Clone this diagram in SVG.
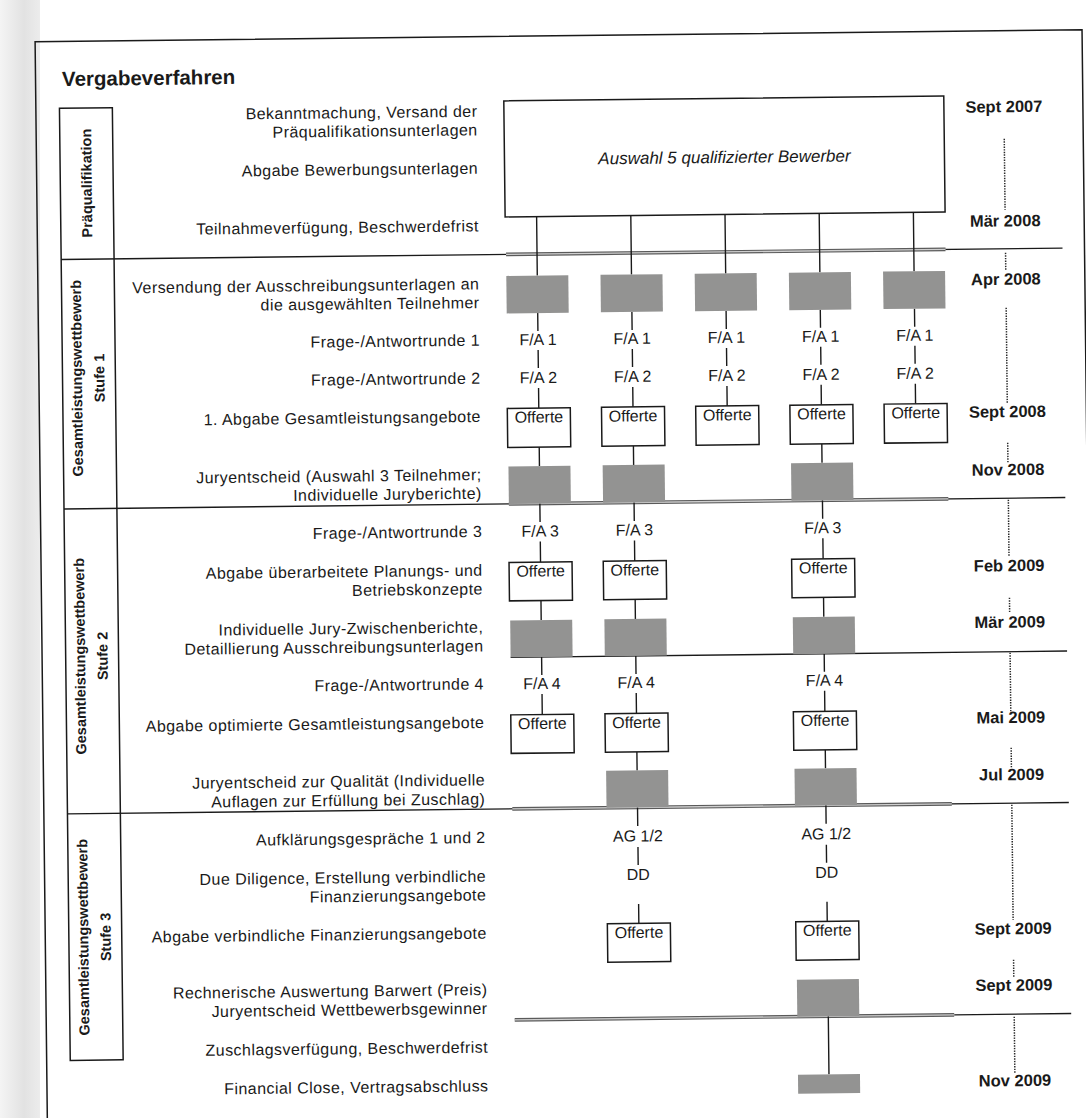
<svg xmlns="http://www.w3.org/2000/svg" width="1086" height="1118" viewBox="0 0 1086 1118">
<style>
text{font-family:"Liberation Sans",Arial,Helvetica,sans-serif;fill:#1a1a1a}
.lbl{font-size:16px;letter-spacing:0.45px;text-anchor:end}
.ttl{font-size:20.5px;font-weight:bold}
.ph{font-size:14.5px;font-weight:bold;text-anchor:middle}
.dt{font-size:16.5px;font-weight:bold;text-anchor:middle}
.cl{font-size:16px;text-anchor:middle}
.it{font-size:17px;font-style:italic;text-anchor:middle}
.gr{fill:#939392}
.of{fill:#fff;stroke:#1a1a1a;stroke-width:1.5}
.bx{fill:#fff;stroke:#1a1a1a;stroke-width:1.5}
.fr{fill:none;stroke:#1a1a1a;stroke-width:1.5}
.cn{stroke:#1a1a1a;stroke-width:1.4;fill:none}
.sp{stroke:#1a1a1a;stroke-width:1.4}
.d1{stroke:#5a5a5a;stroke-width:3.6}
.d2{stroke:#cfcfcf;stroke-width:1.3}
.dot{stroke:#2a2a2a;stroke-width:1.5;stroke-dasharray:1.4 1.2;fill:none}
</style>
<defs>
<linearGradient id="shade" x1="0" y1="0" x2="1" y2="0">
<stop offset="0" stop-color="#f4f4f4"/>
<stop offset="0.6" stop-color="#e2e2e2"/>
<stop offset="1" stop-color="#ececec"/>
</linearGradient>
</defs>
<rect x="0" y="0" width="1086" height="1118" fill="#fff"/>
<rect x="0" y="0" width="40" height="1118" fill="url(#shade)"/>
<g transform="rotate(-0.65 543 559)">
<g id="frame"><path class="fr" d="M41,1140 V36 H1088 V1140"/></g>
<g id="title"><text class="ttl" x="67.5" y="80.5">Vergabeverfahren</text></g>
<g id="phase-column"><rect class="fr" x="64.6" y="102.8" width="52.9" height="952.2"/></g>
<g id="phase-prequal"><text class="ph" transform="translate(96,178) rotate(-90)">Präqualifikation</text></g>
<g id="phase-stufe1"><text class="ph" transform="translate(84,373) rotate(-90)">Gesamtleistungswettbewerb</text><text class="ph" transform="translate(106.5,373) rotate(-90)">Stufe 1</text></g>
<g id="phase-stufe2"><text class="ph" transform="translate(84,651) rotate(-90)">Gesamtleistungswettbewerb</text><text class="ph" transform="translate(106.5,651) rotate(-90)">Stufe 2</text></g>
<g id="phase-stufe3"><text class="ph" transform="translate(84,932) rotate(-90)">Gesamtleistungswettbewerb</text><text class="ph" transform="translate(106.5,932) rotate(-90)">Stufe 3</text></g>

<g id="connectors">
<g id="separators">
<line class="sp" x1="64.6" y1="254" x2="1066" y2="254"/>
<line class="d1" x1="509.5" y1="254" x2="949" y2="254"/><line class="d2" x1="509.5" y1="254" x2="949" y2="254"/>
<line class="sp" x1="64.6" y1="503.5" x2="1066" y2="503.5"/>
<line class="d1" x1="509.5" y1="503.5" x2="949" y2="503.5"/><line class="d2" x1="509.5" y1="503.5" x2="949" y2="503.5"/>
<line class="sp" x1="509.5" y1="657" x2="1066" y2="657"/>
<line class="sp" x1="64.6" y1="808.5" x2="1066" y2="808.5"/>
<line class="d1" x1="509.5" y1="808.5" x2="949" y2="808.5"/><line class="d2" x1="509.5" y1="808.5" x2="949" y2="808.5"/>
<line class="sp" x1="949" y1="1019.5" x2="1066" y2="1019.5"/>
<line class="d1" x1="509.5" y1="1019.5" x2="949" y2="1019.5"/><line class="d2" x1="509.5" y1="1019.5" x2="949" y2="1019.5"/>
</g>
<path class="cn" d="M540.5,216.5V275.5 M634.7,216.5V275.5 M728.9,216.5V275.5 M823.1,216.5V275.5 M917.3,216.5V275.5
M540.5,313V331 M634.7,313V331 M728.9,313V331 M823.1,313V331 M917.3,313V331
M540.5,350V368 M634.7,350V368 M728.9,350V368 M823.1,350V368 M917.3,350V368
M540.5,388V408 M634.7,388V408 M728.9,388V408 M823.1,388V408 M917.3,388V408
M540.5,447V466 M634.7,447V466 M823.1,447V466
M540.5,503.5V522 M634.7,503.5V522 M823.1,503.5V522
M540.5,541.5V562 M634.7,541.5V562 M823.1,541.5V562
M540.5,600.5V620 M634.7,600.5V620 M823.1,600.5V620
M540.5,657V675 M634.7,657V675 M823.1,657V675
M540.5,694V714.5 M634.7,694V714.5 M823.1,694V714.5
M634.7,753V771.5 M823.1,753V771.5
M634.7,808.5V827 M823.1,808.5V827
M634.7,848V866 M823.1,848V866
M634.7,905V924.5 M823.1,905V924.5
M823.1,1019.5V1077.5"/>
<path class="dot" d="M1009,144V215 M1009,258V275 M1009,313V408 M1009,448V468 M1009,505V562 M1009,603V618 M1009,658V717 M1009,753V773 M1009,810V925 M1009,965V983 M1009,1022V1078"/>
</g>

<g id="labels">
<g id="l-bekannt"><text class="lbl" x="482.5" y="116">Bekanntmachung, Versand der</text><text class="lbl" x="482.5" y="134.7">Präqualifikationsunterlagen</text></g>
<g id="l-abgabe-bew"><text class="lbl" x="482.5" y="173">Abgabe Bewerbungsunterlagen</text></g>
<g id="l-teilnahme"><text class="lbl" x="482.5" y="230.7">Teilnahmeverfügung, Beschwerdefrist</text></g>
<g id="l-versendung"><text class="lbl" x="482.5" y="288.7">Versendung der Ausschreibungsunterlagen an</text><text class="lbl" x="482.5" y="307.4">die ausgewählten Teilnehmer</text></g>
<g id="l-fa1"><text class="lbl" x="482.5" y="345">Frage-/Antwortrunde 1</text></g>
<g id="l-fa2"><text class="lbl" x="482.5" y="383">Frage-/Antwortrunde 2</text></g>
<g id="l-abgabe1"><text class="lbl" x="482.5" y="421.3">1. Abgabe Gesamtleistungsangebote</text></g>
<g id="l-jury1"><text class="lbl" x="482.5" y="479.4">Juryentscheid (Auswahl 3 Teilnehmer;</text><text class="lbl" x="482.5" y="498.1">Individuelle Juryberichte)</text></g>
<g id="l-fa3"><text class="lbl" x="482.5" y="536.3">Frage-/Antwortrunde 3</text></g>
<g id="l-abgabe2"><text class="lbl" x="482.5" y="575">Abgabe überarbeitete Planungs- und</text><text class="lbl" x="482.5" y="593.8">Betriebskonzepte</text></g>
<g id="l-zwischen"><text class="lbl" x="482.5" y="631.8">Individuelle Jury-Zwischenberichte,</text><text class="lbl" x="482.5" y="650.7">Detaillierung Ausschreibungsunterlagen</text></g>
<g id="l-fa4"><text class="lbl" x="482.5" y="688.7">Frage-/Antwortrunde 4</text></g>
<g id="l-abgabe3"><text class="lbl" x="482.5" y="727.3">Abgabe optimierte Gesamtleistungsangebote</text></g>
<g id="l-jury2"><text class="lbl" x="482.5" y="784.7">Juryentscheid zur Qualität (Individuelle</text><text class="lbl" x="482.5" y="803.7">Auflagen zur Erfüllung bei Zuschlag)</text></g>
<g id="l-ag"><text class="lbl" x="482.5" y="842.3">Aufklärungsgespräche 1 und 2</text></g>
<g id="l-dd"><text class="lbl" x="482.5" y="881">Due Diligence, Erstellung verbindliche</text><text class="lbl" x="482.5" y="899.8">Finanzierungsangebote</text></g>
<g id="l-abgabe4"><text class="lbl" x="482.5" y="938">Abgabe verbindliche Finanzierungsangebote</text></g>
<g id="l-rechn"><text class="lbl" x="482.5" y="994.4">Rechnerische Auswertung Barwert (Preis)</text><text class="lbl" x="482.5" y="1013.2">Juryentscheid Wettbewerbsgewinner</text></g>
<g id="l-zuschlag"><text class="lbl" x="482.5" y="1052">Zuschlagsverfügung, Beschwerdefrist</text></g>
<g id="l-close"><text class="lbl" x="482.5" y="1090.7">Financial Close, Vertragsabschluss</text></g>
</g>

<g id="dates">
<g id="d1"><text class="dt" x="1009" y="117.5">Sept 2007</text></g>
<g id="d2"><text class="dt" x="1009" y="231.7">Mär 2008</text></g>
<g id="d3"><text class="dt" x="1009" y="290">Apr 2008</text></g>
<g id="d4"><text class="dt" x="1009" y="422.5">Sept 2008</text></g>
<g id="d5"><text class="dt" x="1009" y="480.5">Nov 2008</text></g>
<g id="d6"><text class="dt" x="1009" y="576.5">Feb 2009</text></g>
<g id="d7"><text class="dt" x="1009" y="633">Mär 2009</text></g>
<g id="d8"><text class="dt" x="1009" y="728.3">Mai 2009</text></g>
<g id="d9"><text class="dt" x="1009" y="785.5">Jul 2009</text></g>
<g id="d10"><text class="dt" x="1009" y="939.5">Sept 2009</text></g>
<g id="d11"><text class="dt" x="1009" y="996">Sept 2009</text></g>
<g id="d12"><text class="dt" x="1009" y="1091.5">Nov 2009</text></g>
</g>

<g id="prequal-box"><rect class="bx" x="509" y="100.5" width="440" height="116"/><text class="it" x="729" y="165">Auswahl 5 qualifizierter Bewerber</text></g>

<g id="row-versand">
<g id="v1"><rect class="gr" x="509.5" y="275.5" width="62" height="37.5"/></g>
<g id="v2"><rect class="gr" x="603.7" y="275.5" width="62" height="37.5"/></g>
<g id="v3"><rect class="gr" x="697.9" y="275.5" width="62" height="37.5"/></g>
<g id="v4"><rect class="gr" x="792.1" y="275.5" width="62" height="37.5"/></g>
<g id="v5"><rect class="gr" x="886.3" y="275.5" width="62" height="37.5"/></g>
</g>
<g id="row-fa1">
<g id="fa1-1"><text class="cl" x="540.5" y="345">F/A 1</text></g>
<g id="fa1-2"><text class="cl" x="634.7" y="345">F/A 1</text></g>
<g id="fa1-3"><text class="cl" x="728.9" y="345">F/A 1</text></g>
<g id="fa1-4"><text class="cl" x="823.1" y="345">F/A 1</text></g>
<g id="fa1-5"><text class="cl" x="917.3" y="345">F/A 1</text></g>
</g>
<g id="row-fa2">
<g id="fa2-1"><text class="cl" x="540.5" y="383">F/A 2</text></g>
<g id="fa2-2"><text class="cl" x="634.7" y="383">F/A 2</text></g>
<g id="fa2-3"><text class="cl" x="728.9" y="383">F/A 2</text></g>
<g id="fa2-4"><text class="cl" x="823.1" y="383">F/A 2</text></g>
<g id="fa2-5"><text class="cl" x="917.3" y="383">F/A 2</text></g>
</g>
<g id="row-offerte1">
<g id="o1-1"><rect class="of" x="509" y="408" width="63" height="39"/><text class="cl" x="540.5" y="422.5">Offerte</text></g>
<g id="o1-2"><rect class="of" x="603.2" y="408" width="63" height="39"/><text class="cl" x="634.7" y="422.5">Offerte</text></g>
<g id="o1-3"><rect class="of" x="697.4" y="408" width="63" height="39"/><text class="cl" x="728.9" y="422.5">Offerte</text></g>
<g id="o1-4"><rect class="of" x="791.6" y="408" width="63" height="39"/><text class="cl" x="823.1" y="422.5">Offerte</text></g>
<g id="o1-5"><rect class="of" x="885.8" y="408" width="63" height="39"/><text class="cl" x="917.3" y="422.5">Offerte</text></g>
</g>
<g id="row-jury1">
<g id="j1-1"><rect class="gr" x="509.5" y="466" width="62" height="37.5"/></g>
<g id="j1-2"><rect class="gr" x="603.7" y="466" width="62" height="37.5"/></g>
<g id="j1-4"><rect class="gr" x="792.1" y="466" width="62" height="37.5"/></g>
</g>
<g id="row-fa3">
<g id="fa3-1"><text class="cl" x="540.5" y="536.5">F/A 3</text></g>
<g id="fa3-2"><text class="cl" x="634.7" y="536.5">F/A 3</text></g>
<g id="fa3-4"><text class="cl" x="823.1" y="536.5">F/A 3</text></g>
</g>
<g id="row-offerte2">
<g id="o2-1"><rect class="of" x="509" y="562" width="63" height="38.5"/><text class="cl" x="540.5" y="576.5">Offerte</text></g>
<g id="o2-2"><rect class="of" x="603.2" y="562" width="63" height="38.5"/><text class="cl" x="634.7" y="576.5">Offerte</text></g>
<g id="o2-4"><rect class="of" x="791.6" y="562" width="63" height="38.5"/><text class="cl" x="823.1" y="576.5">Offerte</text></g>
</g>
<g id="row-zwischen">
<g id="z-1"><rect class="gr" x="509.5" y="620" width="62" height="37"/></g>
<g id="z-2"><rect class="gr" x="603.7" y="620" width="62" height="37"/></g>
<g id="z-4"><rect class="gr" x="792.1" y="620" width="62" height="37"/></g>
</g>
<g id="row-fa4">
<g id="fa4-1"><text class="cl" x="540.5" y="689">F/A 4</text></g>
<g id="fa4-2"><text class="cl" x="634.7" y="689">F/A 4</text></g>
<g id="fa4-4"><text class="cl" x="823.1" y="689">F/A 4</text></g>
</g>
<g id="row-offerte3">
<g id="o3-1"><rect class="of" x="509" y="714.5" width="63" height="38.5"/><text class="cl" x="540.5" y="729">Offerte</text></g>
<g id="o3-2"><rect class="of" x="603.2" y="714.5" width="63" height="38.5"/><text class="cl" x="634.7" y="729">Offerte</text></g>
<g id="o3-4"><rect class="of" x="791.6" y="714.5" width="63" height="38.5"/><text class="cl" x="823.1" y="729">Offerte</text></g>
</g>
<g id="row-jury2">
<g id="j2-2"><rect class="gr" x="603.7" y="771.5" width="62" height="37"/></g>
<g id="j2-4"><rect class="gr" x="792.1" y="771.5" width="62" height="37"/></g>
</g>
<g id="row-ag">
<g id="ag-2"><text class="cl" x="634.7" y="842.5">AG 1/2</text></g>
<g id="ag-4"><text class="cl" x="823.1" y="842.5">AG 1/2</text></g>
</g>
<g id="row-dd">
<g id="dd-2"><text class="cl" x="634.7" y="881">DD</text></g>
<g id="dd-4"><text class="cl" x="823.1" y="881">DD</text></g>
</g>
<g id="row-offerte4">
<g id="o4-2"><rect class="of" x="603.2" y="924.5" width="63" height="38.5"/><text class="cl" x="634.7" y="939">Offerte</text></g>
<g id="o4-4"><rect class="of" x="791.6" y="924.5" width="63" height="38.5"/><text class="cl" x="823.1" y="939">Offerte</text></g>
</g>
<g id="row-rechn"><rect class="gr" x="792.1" y="982.5" width="62" height="37"/></g>
<g id="row-close"><rect class="gr" x="792.1" y="1077.5" width="62" height="19"/></g>
</g>
</svg>
